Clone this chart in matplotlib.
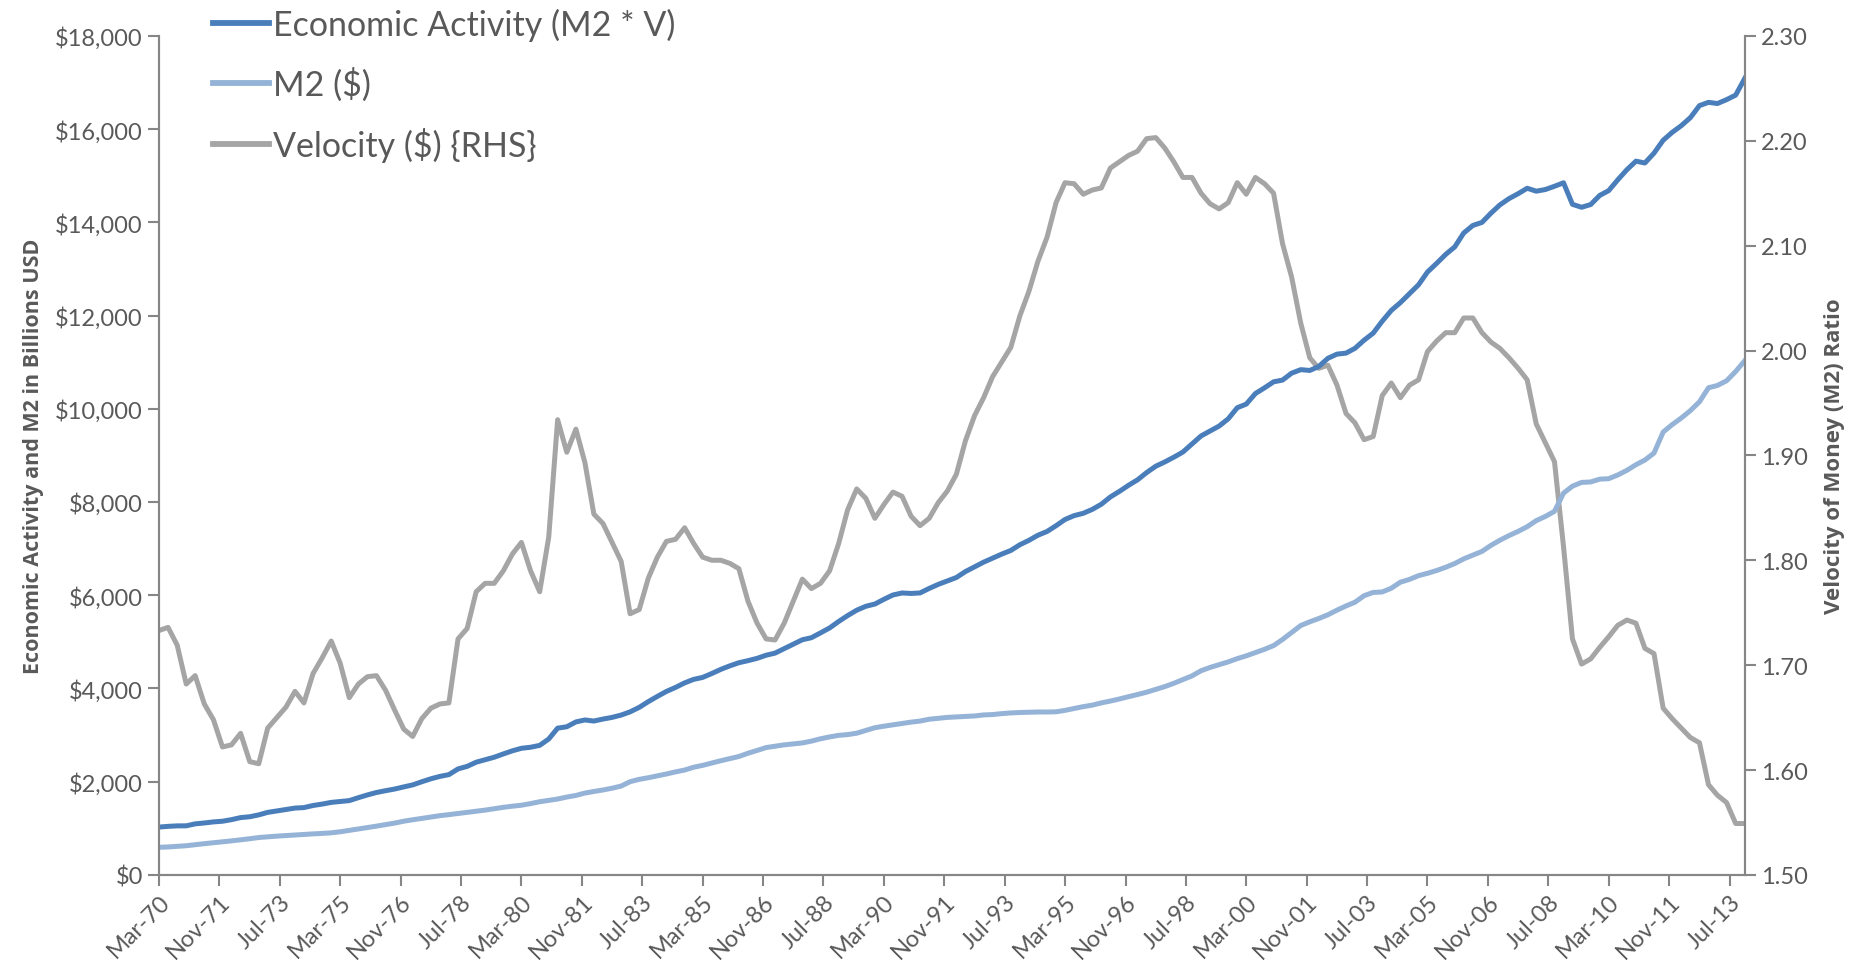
import numpy as np
import pandas as pd
import matplotlib
matplotlib.use("Agg")
import matplotlib.pyplot as plt
import matplotlib.dates as mdates
from matplotlib.ticker import FuncFormatter, MultipleLocator

plt.rcParams['font.family'] = ['Lato', 'DejaVu Sans']

# quarterly series, Mar-70 .. Dec-13
dates = pd.date_range('1970-03-01', periods=176, freq='3MS')

# M2 money stock, billions USD
m2 = [
    592, 600, 612, 626, 648, 670, 690, 710, 730, 752, 776, 802,
    818, 832, 845, 856, 868, 880, 890, 903, 925, 955, 985, 1016,
    1046, 1078, 1112, 1152, 1183, 1212, 1243, 1271, 1293, 1318, 1342, 1366,
    1390, 1420, 1450, 1474, 1495, 1530, 1570, 1600, 1628, 1670, 1705, 1756,
    1790, 1822, 1860, 1906, 2000, 2050, 2085, 2124, 2165, 2210, 2250, 2310,
    2350, 2400, 2450, 2496, 2540, 2610, 2670, 2732, 2760, 2790, 2810, 2831,
    2870, 2920, 2960, 2994, 3010, 3040, 3100, 3158, 3190, 3220, 3250, 3278,
    3300, 3340, 3360, 3379, 3390, 3400, 3410, 3432, 3440, 3460, 3475, 3484,
    3490, 3495, 3495, 3499, 3530, 3570, 3610, 3642, 3690, 3730, 3775, 3824,
    3870, 3920, 3980, 4040, 4110, 4190, 4270, 4380, 4450, 4510, 4570, 4640,
    4700, 4770, 4840, 4920, 5050, 5200, 5350, 5430, 5500, 5580, 5680, 5770,
    5850, 5990, 6060, 6070, 6150, 6280, 6340, 6420, 6470, 6530, 6600, 6680,
    6780, 6860, 6940, 7070, 7180, 7280, 7370, 7470, 7600, 7690, 7800, 8190,
    8340, 8420, 8430, 8490, 8500, 8580, 8680, 8800, 8900, 9050, 9500, 9660,
    9800, 9960, 10150, 10450, 10500, 10600, 10800, 11030,
]

# velocity of M2 (ratio)
velocity = [
    1.733, 1.736, 1.719, 1.682, 1.690, 1.663, 1.648, 1.622, 1.624, 1.635, 1.608, 1.606,
    1.640, 1.650, 1.660, 1.675, 1.664, 1.692, 1.707, 1.723, 1.702, 1.669, 1.682, 1.689,
    1.690, 1.676, 1.657, 1.639, 1.632, 1.649, 1.659, 1.663, 1.664, 1.725, 1.735, 1.770,
    1.778, 1.778, 1.790, 1.806, 1.817, 1.790, 1.770, 1.822, 1.934, 1.903, 1.925, 1.893,
    1.844, 1.835, 1.817, 1.799, 1.749, 1.753, 1.783, 1.803, 1.818, 1.820, 1.831, 1.816,
    1.803, 1.800, 1.800, 1.797, 1.792, 1.761, 1.740, 1.725, 1.724, 1.740, 1.761, 1.782,
    1.773, 1.778, 1.790, 1.816, 1.848, 1.868, 1.859, 1.840, 1.853, 1.865, 1.861, 1.842,
    1.833, 1.840, 1.855, 1.866, 1.882, 1.914, 1.938, 1.955, 1.975, 1.989, 2.003, 2.033,
    2.056, 2.085, 2.108, 2.141, 2.160, 2.159, 2.149, 2.153, 2.155, 2.174, 2.180, 2.186,
    2.190, 2.202, 2.203, 2.193, 2.180, 2.165, 2.165, 2.150, 2.140, 2.135, 2.141, 2.160,
    2.149, 2.165, 2.159, 2.150, 2.102, 2.070, 2.026, 1.993, 1.983, 1.986, 1.967, 1.940,
    1.931, 1.915, 1.918, 1.957, 1.969, 1.955, 1.967, 1.972, 1.999, 2.009, 2.017, 2.017,
    2.031, 2.031, 2.017, 2.008, 2.002, 1.993, 1.983, 1.972, 1.930, 1.912, 1.894, 1.813,
    1.725, 1.701, 1.706, 1.717, 1.727, 1.738, 1.743, 1.740, 1.716, 1.711, 1.659, 1.649,
    1.640, 1.631, 1.626, 1.586, 1.576, 1.569, 1.549, 1.549,
]

# economic activity as defined in the legend: M2 * V
activity = np.array(m2) * np.array(velocity)

c_ea = '#4A7EBB'
c_m2 = '#95B3D7'
c_v = '#A5A5A5'
c_axis = '#868686'
c_text = '#595959'

fig = plt.figure(figsize=(18.7, 9.7), dpi=100)
ax = fig.add_axes([0.085, 0.097, 0.848, 0.865])
ax2 = ax.twinx()

l1, = ax.plot(dates, activity, color=c_ea, lw=3.6, label='Economic Activity (M2 * V)')
l2, = ax.plot(dates, m2, color=c_m2, lw=3.6, label='M2 ($)')
l3, = ax2.plot(dates, velocity, color=c_v, lw=3.6, label='Velocity ($) {RHS}')
ax.set_zorder(ax2.get_zorder() + 1)
ax.patch.set_visible(False)

ax.set_ylim(0, 18000)
ax.yaxis.set_major_locator(MultipleLocator(2000))
ax.yaxis.set_major_formatter(FuncFormatter(lambda v, p: '${:,.0f}'.format(v)))
ax2.set_ylim(1.5, 2.3)
ax2.yaxis.set_major_locator(MultipleLocator(0.1))
ax2.yaxis.set_major_formatter(FuncFormatter(lambda v, p: '{:.2f}'.format(v)))

ax.set_xlim(dates[0], dates[-1])
ticks = pd.date_range('1970-03-01', '2013-07-01', freq='20MS')
ax.set_xticks(ticks)
ax.xaxis.set_major_formatter(mdates.DateFormatter('%b-%y'))
plt.setp(ax.get_xticklabels(), rotation=45, ha='right', rotation_mode='anchor')

for a in (ax, ax2):
    a.spines['top'].set_visible(False)
    for s in ('left', 'right', 'bottom'):
        a.spines[s].set_color(c_axis)
        a.spines[s].set_linewidth(1.5)
    a.tick_params(colors=c_axis, labelcolor=c_text, labelsize=17, width=1.5, length=8)

label_font = ['Open Sans', 'DejaVu Sans']
ax.set_ylabel('Economic Activity and M2 in Billions USD', fontsize=15.5, fontweight='bold',
              family=label_font, color=c_text, labelpad=8)
ax2.set_ylabel('Velocity of Money (M2) Ratio', fontsize=16, fontweight='bold',
               family=label_font, color=c_text, labelpad=12)

leg = fig.legend(handles=[l1, l2, l3], loc='upper left', bbox_to_anchor=(0.1066, 1.005),
                 borderaxespad=0, frameon=False, fontsize=24.5, handlelength=1.65,
                 handletextpad=0.1, labelspacing=0.76, labelcolor=c_text)
for h in leg.get_lines():
    h.set_linewidth(4.2)

fig.savefig('out.png', dpi=100, facecolor='white')
